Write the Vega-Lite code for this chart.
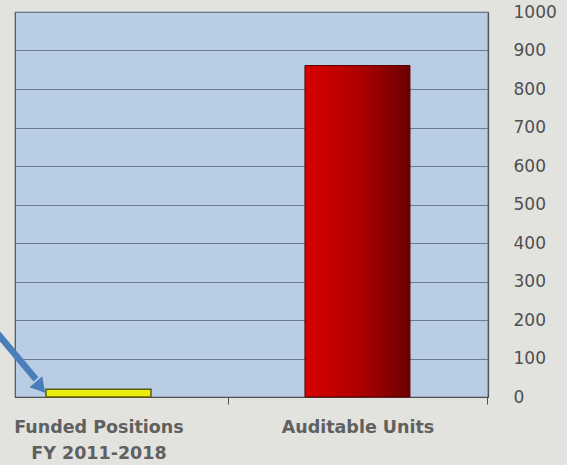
{
  "$schema": "https://vega.github.io/schema/vega-lite/v6.json",
  "width": 473,
  "height": 385,
  "autosize": {"type": "none"},
  "padding": {"left": 15, "top": 12, "right": 79, "bottom": 68},
  "background": "#e2e2df",
  "config": {
    "view": {"fill": "#b9cde5", "stroke": "#505050", "strokeWidth": 1.2},
    "font": "DejaVu Sans"
  },
  "datasets": {
    "bars": [
      {"category": "Funded Positions\nFY 2011-2018", "value": 20},
      {"category": "Auditable Units", "value": 861}
    ],
    "arrow": [
      {"category": "Funded Positions\nFY 2011-2018", "value": 170, "value2": 46}
    ],
    "arrowhead": [
      {"category": "Funded Positions\nFY 2011-2018", "value": 30}
    ]
  },
  "encoding": {
    "x": {
      "field": "category",
      "type": "nominal",
      "sort": null,
      "scale": {
        "domain": ["Funded Positions\nFY 2011-2018", "Auditable Units"],
        "paddingInner": 0.5946,
        "paddingOuter": 0.2104,
        "align": 0.284
      },
      "axis": {
        "title": null,
        "labelAngle": 0,
        "labelExpr": "split(datum.label, '\\n')",
        "labelFont": "DejaVu Sans",
        "labelFontWeight": "bold",
        "labelFontSize": 17.5,
        "labelColor": "#606060",
        "labelLineHeight": 26,
        "labelPadding": 14,
        "tickOffset": 129.5,
        "labelOffset": -129.5,
        "ticks": true,
        "tickSize": 7,
        "tickColor": "#505050",
        "domainColor": "#505050",
        "domainWidth": 1.2,
        "grid": false
      }
    },
    "y": {
      "field": "value",
      "type": "quantitative",
      "scale": {"domain": [0, 1000], "nice": false},
      "axis": {
        "orient": "right",
        "title": null,
        "values": [0, 100, 200, 300, 400, 500, 600, 700, 800, 900, 1000],
        "format": "d",
        "ticks": false,
        "labelPadding": 25,
        "labelAlign": "left",
        "labelFontSize": 17,
        "labelColor": "#505050",
        "labelFont": "DejaVu Sans",
        "domainColor": "#505050",
        "domainWidth": 1.2,
        "grid": true,
        "gridColor": "#6e7c8a",
        "gridWidth": 1
      }
    }
  },
  "layer": [
    {
      "data": {"name": "bars"},
      "transform": [{"filter": "datum.category == 'Auditable Units'"}],
      "mark": {
        "type": "bar",
        "stroke": "#5a0000",
        "strokeWidth": 1,
        "fill": {
          "gradient": "linear",
          "x1": 0, "y1": 0, "x2": 1, "y2": 0,
          "stops": [
            {"offset": 0, "color": "#d80000"},
            {"offset": 0.5, "color": "#b00000"},
            {"offset": 1, "color": "#6a0000"}
          ]
        }
      }
    },
    {
      "data": {"name": "bars"},
      "transform": [{"filter": "datum.category != 'Auditable Units'"}],
      "mark": {"type": "bar", "fill": "#ecec0a", "stroke": "#5c5c10", "strokeWidth": 1.5}
    },
    {
      "data": {"name": "arrow"},
      "mark": {"type": "rule", "color": "#4a7ebb", "strokeWidth": 6.5, "xOffset": -102.5, "x2Offset": -62.5},
      "encoding": {
        "x2": {"field": "category", "bandPosition": 0.5},
        "y2": {"field": "value2"}
      }
    },
    {
      "data": {"name": "arrowhead"},
      "mark": {"type": "point", "shape": "triangle", "filled": true, "color": "#4a7ebb", "opacity": 1, "size": 280, "angle": 140, "xOffset": -59.5}
    }
  ]
}
